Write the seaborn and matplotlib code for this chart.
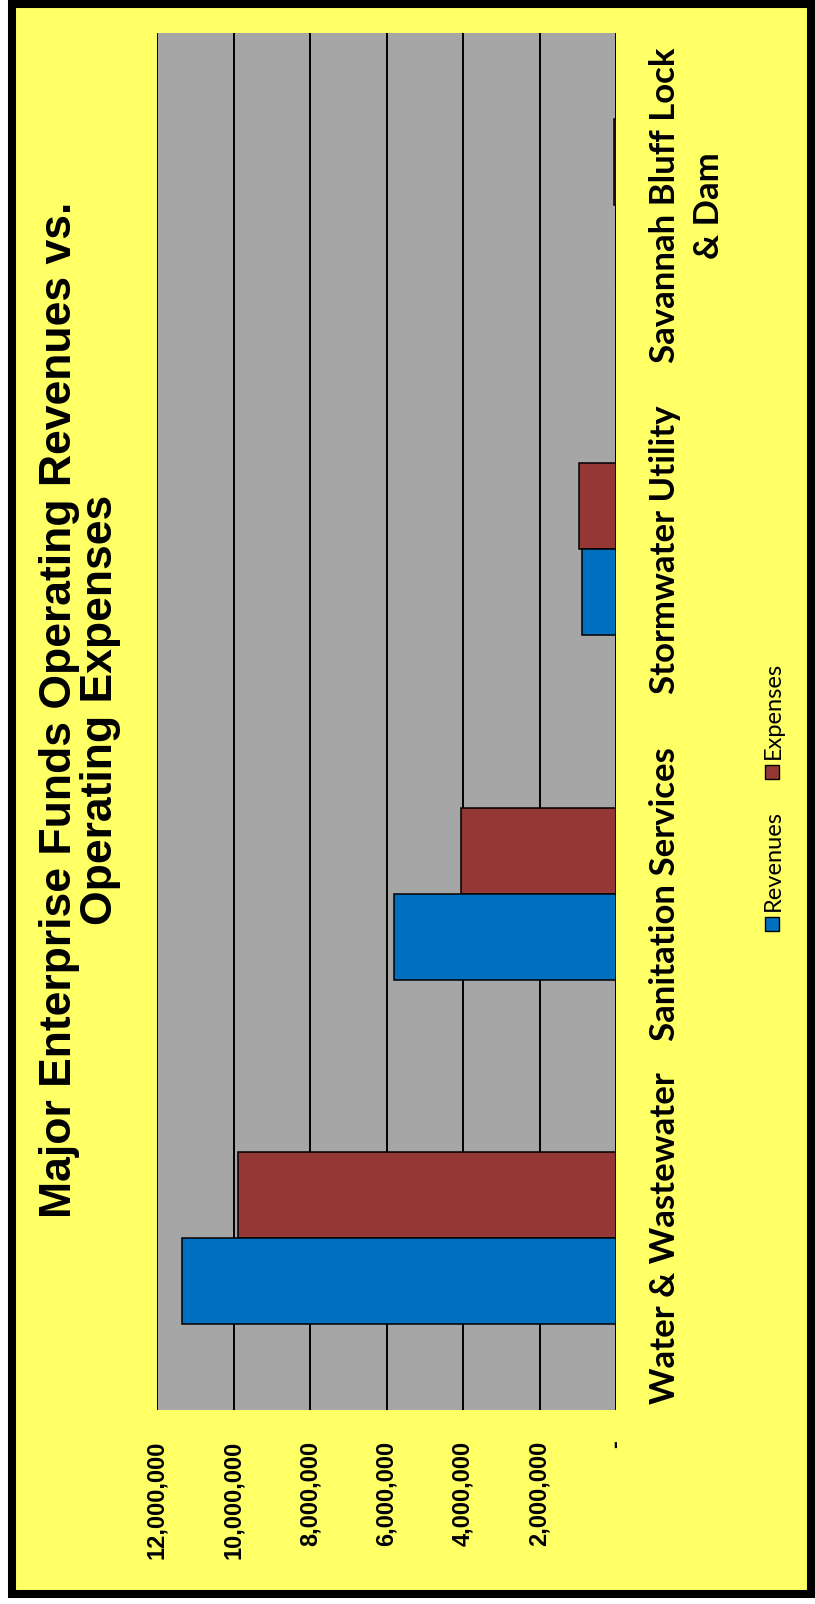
import matplotlib
matplotlib.use("Agg")
import matplotlib.pyplot as plt
from matplotlib.patches import Rectangle
import seaborn as sns
import pandas as pd

categories = ["Water & Wastewater", "Sanitation Services", "Stormwater Utility",
              "Savannah Bluff Lock\n& Dam"]
revenues = [11350000, 5800000, 890000, 0]
expenses = [9880000, 4050000, 970000, 40000]
series = ["Revenues", "Expenses"]
tick_values = [0, 2000000, 4000000, 6000000, 8000000, 10000000, 12000000]
tick_labels = ["-", "2,000,000", "4,000,000", "6,000,000", "8,000,000",
               "10,000,000", "12,000,000"]
title = "Major Enterprise Funds Operating Revenues vs.\nOperating Expenses"

colors = {"Revenues": "#0070C0", "Expenses": "#953735"}
YELLOW = "#FFFF66"
GRAY = "#A6A6A6"

df = pd.DataFrame({
    "category": categories * 2,
    "value": revenues + expenses,
    "series": ["Revenues"] * 4 + ["Expenses"] * 4,
})

sns.set_theme(style="white", rc={"text.color": "black",
                                 "xtick.color": "black",
                                 "ytick.color": "black"})
W, H = 815, 1604
fig = plt.figure(figsize=(W / 100, H / 100), dpi=100)
fig.patch.set_facecolor("white")

# yellow background with thick black frame
fig.add_artist(Rectangle((12 / W, 1 - 1594 / H), (811 - 12) / W, (1594 - 4) / H,
                         transform=fig.transFigure, facecolor=YELLOW,
                         edgecolor="black", linewidth=5.8, zorder=-10))

L, R, T, B = 157, 616, 33, 1410
ax = fig.add_axes([L / W, 1 - B / H, (R - L) / W, (B - T) / H])
ax.set_facecolor(GRAY)

sns.barplot(data=df, y="category", x="value", hue="series",
            order=categories[::-1], hue_order=["Expenses", "Revenues"],
            palette=colors, saturation=1, orient="h", width=0.5, ax=ax,
            edgecolor="black", linewidth=1.1, legend=False, zorder=3)

ax.set_xlim(12000000, 0)
ax.set_xticks(tick_values)
ax.set_xticklabels(tick_labels, rotation=90, fontfamily="Liberation Sans",
                   fontweight="bold", fontsize=17, va="top", ha="center",
                   color="black")
ax.tick_params(axis="x", length=0, pad=22)
ax.grid(axis="x", color="black", linewidth=1.4, zorder=0)
ax.set_axisbelow(True)
ax.yaxis.tick_right()
ax.set_yticks(range(len(categories)))
ax.set_yticklabels(categories[::-1], rotation=90, fontfamily="Lato",
                   fontweight="bold", fontsize=25, va="center", ha="left",
                   multialignment="center", linespacing=1.45, color="black")
ax.tick_params(axis="y", length=0, pad=24)
ax.set_xlabel("")
ax.set_ylabel("")
for s in ax.spines.values():
    s.set_visible(False)

fig.text(80 / W, 1 - 710 / H, title, rotation=90, ha="center", va="center",
         multialignment="center", fontfamily="Liberation Sans",
         fontweight="bold", fontsize=32, linespacing=1.0, color="black")

# legend (rotated)
sq = 14
leg = [("Revenues", 931, 911), ("Expenses", 779, 759)]
for name, sq_bottom, txt_bottom in leg:
    fig.add_artist(Rectangle((765 / W, 1 - sq_bottom / H), sq / W, sq / H,
                             transform=fig.transFigure,
                             facecolor=colors[name], edgecolor="black",
                             linewidth=1.0))
    fig.text(773 / W, 1 - txt_bottom / H, name, rotation=90, ha="center",
             va="bottom", fontfamily="Lato", fontsize=17, color="black")

fig.savefig("out.png", dpi=100, facecolor=fig.get_facecolor())
